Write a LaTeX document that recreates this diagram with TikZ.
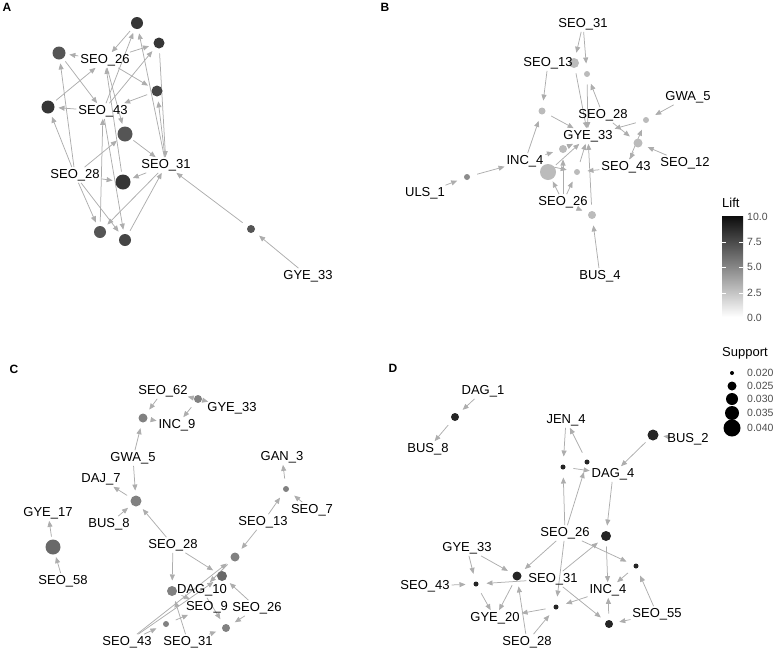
\documentclass[tikz,border=0pt]{standalone}
\usepackage{fontspec}
\setmainfont{Liberation Sans}
\usetikzlibrary{arrows.meta,backgrounds}
\definecolor{edgec}{HTML}{ADADAD}
\definecolor{cA}{HTML}{454545}
\definecolor{cAd}{HTML}{363636}
\definecolor{cAl}{HTML}{555555}
\definecolor{cB}{HTML}{BBBBBB}
\definecolor{cBd}{HTML}{8C8C8C}
\definecolor{cC}{HTML}{818181}
\definecolor{cCd}{HTML}{696969}
\definecolor{cD}{HTML}{252525}
\definecolor{tickc}{HTML}{4D4D4D}
\begin{document}
\begin{tikzpicture}[x=1pt,y=-1pt,
  itm/.style={font=\fontsize{13}{13}\selectfont, inner sep=2pt, outer sep=0pt},
  rn/.style={circle, inner sep=0pt, minimum size=#1pt, outer sep={(21-#1)/2*1pt}},
  edg/.style={draw=edgec, line width=0.75pt, -{Triangle[length=6pt,width=5pt]}},
  pl/.style={font=\bfseries\fontsize{12}{12}\selectfont, inner sep=0pt},
  lg/.style={font=\fontsize{13}{13}\selectfont, inner sep=0pt, anchor=west},
  tk/.style={font=\fontsize{10.5}{10.5}\selectfont, inner sep=0pt, anchor=west, text=tickc}
]
\useasboundingbox (0,0) rectangle (778,651);

% panel letters
\node[pl] (LA) at (7,7) {A};
\node[pl] (LB) at (385,7) {B};
\node[pl] (LC) at (14,369) {C};
\node[pl] (LD) at (393,368) {D};

% ---------------- Panel A ----------------
\node[rn=12, fill=cAd] (a1) at (137,23) {};
\node[rn=11, fill=cAd] (a2) at (159,43) {};
\node[rn=13, fill=cAl] (a3) at (59,53) {};
\node[rn=11, fill=cA] (a4) at (157,91) {};
\node[rn=13, fill=cAd] (a5) at (48,107) {};
\node[rn=15, fill=cAl] (a6) at (125,134) {};
\node[rn=15, fill=cAd] (a7) at (123,182) {};
\node[rn=12, fill=cAl] (a8) at (100,232) {};
\node[rn=12, fill=cA] (a9) at (125,240) {};
\node[rn=8, fill=cAl] (a10) at (251,229) {};
\node[itm] (A26) at (105,60) {SEO\_26};
\node[itm] (A43) at (103,111) {SEO\_43};
\node[itm] (A28) at (75,175) {SEO\_28};
\node[itm] (A31) at (166,165) {SEO\_31};
\node[itm] (A33) at (308,276) {GYE\_33};

% ---------------- Panel B ----------------
\node[rn=10, fill=cB] (b1) at (574,63) {};
\node[rn=6, fill=cB] (b2) at (587,74) {};
\node[rn=7, fill=cB] (b3) at (542,111) {};
\node[rn=6, fill=cB] (b4) at (646,120) {};
\node[rn=9, fill=cB] (b5) at (638,143) {};
\node[rn=8, fill=cB] (b6) at (563,149) {};
\node[rn=16, fill=cB] (b7) at (548,172) {};
\node[rn=6, fill=cB] (b8) at (577,172) {};
\node[rn=6, fill=cBd] (b9) at (467,177) {};
\node[rn=8, fill=cB] (b10) at (592,215) {};
\node[itm] (B31) at (583,24) {SEO\_31};
\node[itm] (B13) at (548,63) {SEO\_13};
\node[itm] (B5) at (688,97) {GWA\_5};
\node[itm] (B28) at (603,115) {SEO\_28};
\node[itm] (B33) at (588,136) {GYE\_33};
\node[itm] (BI4) at (525,161) {INC\_4};
\node[itm] (B43) at (626,167) {SEO\_43};
\node[itm] (B12) at (685,163) {SEO\_12};
\node[itm] (BU1) at (425,193) {ULS\_1};
\node[itm] (B26) at (563,202) {SEO\_26};
\node[itm] (BB4) at (600,276) {BUS\_4};

% ---------------- Panel C ----------------
\node[rn=8, fill=cC] (c1) at (198,399) {};
\node[rn=9, fill=cC] (c2) at (143,418) {};
\node[rn=11, fill=cC] (c3) at (136,501) {};
\node[rn=6, fill=cC] (c4) at (286,489) {};
\node[rn=15, fill=cCd] (c5) at (53,547) {};
\node[rn=9, fill=cC] (c6) at (235,557) {};
\node[rn=10, fill=cCd] (c7) at (222,576) {};
\node[rn=10, fill=cC] (c8) at (172,591) {};
\node[rn=6, fill=cC] (c9) at (166,624) {};
\node[rn=8, fill=cC] (c10) at (226,628) {};
\node[itm] (C62) at (163,391) {SEO\_62};
\node[itm] (C33) at (232,408) {GYE\_33};
\node[itm] (CI9) at (177,425) {INC\_9};
\node[itm] (CG5) at (133,458) {GWA\_5};
\node[itm] (CN3) at (282,457) {GAN\_3};
\node[itm] (CD7) at (101,479) {DAJ\_7};
\node[itm] (C17) at (48,513) {GYE\_17};
\node[itm] (C7) at (312,510) {SEO\_7};
\node[itm] (CB8) at (109,524) {BUS\_8};
\node[itm] (C13) at (263,522) {SEO\_13};
\node[itm] (C28) at (173,545) {SEO\_28};
\node[itm] (C58) at (63,581) {SEO\_58};
\node[itm] (CD10) at (202,590) {DAG\_10};
\node[itm] (C9) at (207,607) {SEO\_9};
\node[itm] (C26) at (257,608) {SEO\_26};
\node[itm] (C43) at (127,642) {SEO\_43};
\node[itm] (C31) at (188,642) {SEO\_31};

% ---------------- Panel D ----------------
\node[rn=8, fill=cD] (d1) at (455,417) {};
\node[rn=11, fill=cD] (d2) at (653,435) {};
\node[rn=5, fill=cD] (d3) at (563,467) {};
\node[rn=5, fill=cD] (d4) at (587,462) {};
\node[rn=10, fill=cD] (d5) at (606,536) {};
\node[rn=5, fill=cD] (d6) at (636,566) {};
\node[rn=9, fill=cD] (d7) at (517,576) {};
\node[rn=5, fill=cD] (d8) at (476,584) {};
\node[rn=5, fill=cD] (d9) at (556,607) {};
\node[rn=8, fill=cD] (d10) at (609,624) {};
\node[itm] (D1) at (483,391) {DAG\_1};
\node[itm] (DB8) at (428,449) {BUS\_8};
\node[itm] (DJ4) at (566,420) {JEN\_4};
\node[itm] (DB2) at (688,439) {BUS\_2};
\node[itm] (DD4) at (613,474) {DAG\_4};
\node[itm] (D26) at (565,533) {SEO\_26};
\node[itm] (D33) at (467,548) {GYE\_33};
\node[itm] (D43) at (425,586) {SEO\_43};
\node[itm] (D31) at (553,579) {SEO\_31};
\node[itm] (DI4) at (608,590) {INC\_4};
\node[itm] (D20) at (495,618) {GYE\_20};
\node[itm] (D55) at (657,614) {SEO\_55};
\node[itm] (D28) at (527,642) {SEO\_28};

% ---------------- Edges ----------------
\begin{scope}[on background layer]
% A
\draw[edg] (A43) -- (a1); \draw[edg] (A31) -- (a1); \draw[edg] (a1) -- (A26);
\draw[edg] (A26) -- (a2); \draw[edg] (A43) -- (a2); \draw[edg] (a2) -- (A31);
\draw[edg] (A26) -- (a3); \draw[edg] (A28) -- (a3); \draw[edg] (a3) -- (A43);
\draw[edg] (A26) -- (a4); \draw[edg] (A31) -- (a4); \draw[edg] (a4) -- (A43);
\draw[edg] (A43) -- (a5); \draw[edg] (A28) -- (a5); \draw[edg] (a5) -- (A26);
\draw[edg] (A28) -- (a6); \draw[edg] (A26) -- (a6); \draw[edg] (a6) -- (A31);
\draw[edg] (A28) -- (a7); \draw[edg] (A31) -- (a7); \draw[edg] (a7) -- (A26);
\draw[edg] (A28) -- (a8); \draw[edg] (A31) -- (a8); \draw[edg] (a8) -- (A43);
\draw[edg] (A28) -- (a9); \draw[edg] (A43) -- (a9); \draw[edg] (a9) -- (A31);
\draw[edg] (A33) -- (a10); \draw[edg] (a10) -- (A31);
% B
\draw[edg] (B31) -- (b1); \draw[edg] (b1) -- (B33);
\draw[edg] (B31) -- (b2); \draw[edg] (B28) -- (b2); \draw[edg] (b2) -- (B33);
\draw[edg] (B13) -- (b3); \draw[edg] (BI4) -- (b3); \draw[edg] (b3) -- (B33);
\draw[edg] (B5) -- (b4); \draw[edg] (B43) -- (b4); \draw[edg] (b4) -- (B33);
\draw[edg] (B28) -- (b5); \draw[edg] (B12) -- (b5); \draw[edg] (b5) -- (B43);
\draw[edg] (BI4) -- (b6); \draw[edg] (B26) -- (b6); \draw[edg] (b6) -- (B33);
\draw[edg] (B26) -- (b7); \draw[edg] (b7) -- (B33);
\draw[edg] (B26) -- (b8); \draw[edg] (B43) -- (b8); \draw[edg] (BI4) -- (b8); \draw[edg] (b8) -- (B33);
\draw[edg] (BU1) -- (b9); \draw[edg] (b9) -- (BI4);
\draw[edg] (BB4) -- (b10); \draw[edg] (B26) -- (b10); \draw[edg] (b10) -- (B33);
% C
\draw[edg] (C62) -- (c1); \draw[edg] (C33) -- (c1); \draw[edg] (c1) -- (CI9);
\draw[edg] (C62) -- (c2); \draw[edg] (CG5) -- (c2); \draw[edg] (c2) -- (CI9);
\draw[edg] (CG5) -- (c3); \draw[edg] (CB8) -- (c3); \draw[edg] (C28) -- (c3); \draw[edg] (c3) -- (CD7);
\draw[edg] (C13) -- (c4); \draw[edg] (C7) -- (c4); \draw[edg] (c4) -- (CN3);
\draw[edg] (C58) -- (c5); \draw[edg] (c5) -- (C17);
\draw[edg] (C13) -- (c6); \draw[edg] (C43) -- (c6); \draw[edg] (c6) -- (CD10);
\draw[edg] (C28) -- (c7); \draw[edg] (C26) -- (c7); \draw[edg] (C43) -- (c7);
\draw[edg] (C28) -- (c8); \draw[edg] (C31) -- (c8); \draw[edg] (c8) -- (C9);
\draw[edg] (C43) -- (c9); \draw[edg] (c9) -- (C9);
\draw[edg] (C31) -- (c10); \draw[edg] (C26) -- (c10); \draw[edg] (CD10) -- (c10);
% D
\draw[edg] (D1) -- (d1); \draw[edg] (d1) -- (DB8);
\draw[edg] (DB2) -- (d2); \draw[edg] (d2) -- (DD4);
\draw[edg] (DJ4) -- (d3); \draw[edg] (D26) -- (d3); \draw[edg] (d3) -- (DD4);
\draw[edg] (D26) -- (d4); \draw[edg] (d4) -- (DJ4);
\draw[edg] (DD4) -- (d5); \draw[edg] (D31) -- (d5); \draw[edg] (d5) -- (DI4);
\draw[edg] (D26) -- (d6); \draw[edg] (D55) -- (d6); \draw[edg] (d6) -- (DI4);
\draw[edg] (D55) -- (d10); \draw[edg] (D31) -- (d10); \draw[edg] (d10) -- (DI4);
\draw[edg] (D26) -- (d7); \draw[edg] (D33) -- (d7); \draw[edg] (D28) -- (d7); \draw[edg] (d7) -- (D20);
\draw[edg] (D33) -- (d8); \draw[edg] (D43) -- (d8); \draw[edg] (D31) -- (d8); \draw[edg] (d8) -- (D20);
\draw[edg] (D28) -- (d9); \draw[edg] (D26) -- (d9); \draw[edg] (DI4) -- (d9); \draw[edg] (d9) -- (D20);
\end{scope}

% ---------------- Legend ----------------
\node[lg] (lift) at (722,203) {Lift};
\shade[top color=black!95, bottom color=white] (722,216) rectangle (743,317);
\foreach \yy in {242,267,293} {
  \draw[white, line width=0.6pt] (722,\yy) -- (726,\yy);
  \draw[white, line width=0.6pt] (739,\yy) -- (743,\yy);
}
\node[tk] (t10) at (747,217) {10.0};
\node[tk] (t75) at (747,242) {7.5};
\node[tk] (t50) at (747,267) {5.0};
\node[tk] (t25) at (747,293) {2.5};
\node[tk] (t00) at (747,318) {0.0};
\node[lg] (supp) at (722,353) {Support};
\node[circle, fill=black, inner sep=0pt, minimum size=4pt] (s1) at (732,373) {};
\node[circle, fill=black, inner sep=0pt, minimum size=9pt] (s2) at (732,386) {};
\node[circle, fill=black, inner sep=0pt, minimum size=12pt] (s3) at (732,399) {};
\node[circle, fill=black, inner sep=0pt, minimum size=14pt] (s4) at (732,413) {};
\node[circle, fill=black, inner sep=0pt, minimum size=17pt] (s5) at (732,428) {};
\node[tk] (u1) at (747,373) {0.020};
\node[tk] (u2) at (747,386) {0.025};
\node[tk] (u3) at (747,399) {0.030};
\node[tk] (u4) at (747,413) {0.035};
\node[tk] (u5) at (747,428) {0.040};
\end{tikzpicture}
\end{document}
